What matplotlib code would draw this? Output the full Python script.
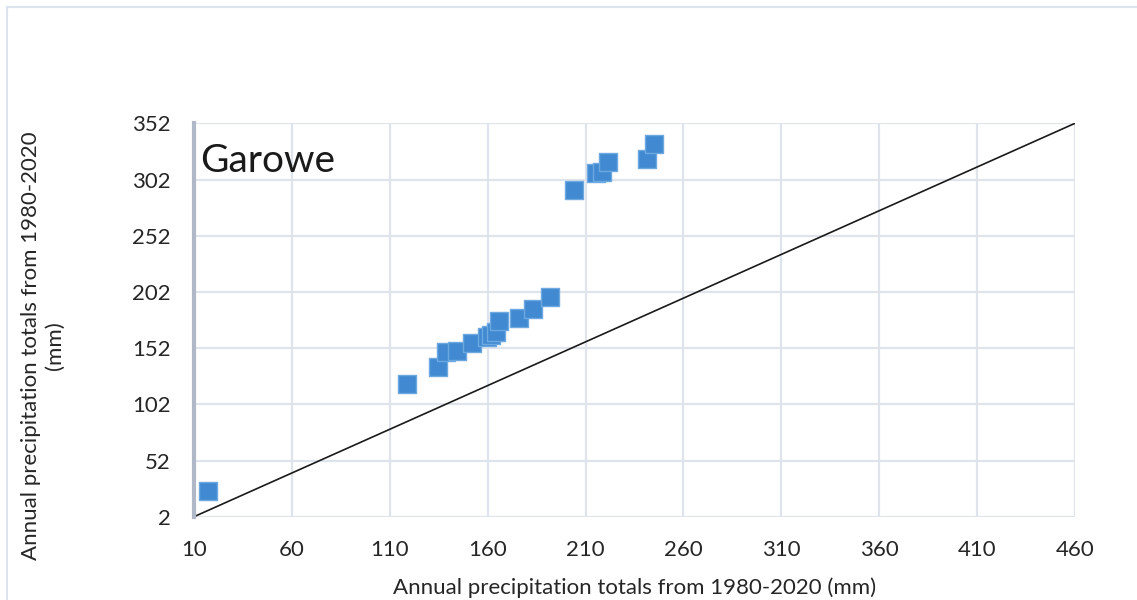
import matplotlib
matplotlib.use("Agg")
import matplotlib.pyplot as plt
from matplotlib.lines import Line2D

# Annual precipitation totals (mm), 1980-2020, Garowe
observed = [17.2, 118.6, 134.4, 138.5, 144.1, 152.0, 159.8, 161.8, 164.2, 165.9,
            175.8, 183.3, 191.9, 203.9, 215.1, 218.5, 221.6, 241.2, 244.8]
estimated = [25.1, 119.8, 134.9, 148.8, 149.7, 156.3, 161.6, 163.9, 166.0, 175.8,
             178.5, 186.5, 197.7, 292.7, 307.5, 309.0, 317.6, 320.0, 333.3]

ref_x = [10, 460]
ref_y = [2, 352]

x_ticks = [10, 60, 110, 160, 210, 260, 310, 360, 410, 460]
y_ticks = [2, 52, 102, 152, 202, 252, 302, 352]

station = "Garowe"
axis_label = "Annual precipitation totals from 1980-2020 (mm)"
y_label = "Annual precipitation totals from 1980-2020\n(mm)"

plt.rcParams['font.family'] = ['Lato', 'DejaVu Sans']

fig = plt.figure(figsize=(11.37, 6.0), dpi=100)
ax = fig.add_axes([194 / 1137, 1 - 516.7 / 600, 881 / 1137, 393.4 / 600])

# outer frame of the chart area
frame_kw = dict(color="#dce3ec", lw=1.5, transform=fig.transFigure)
fig.add_artist(Line2D([7 / 1137, 1.0], [1 - 7 / 600, 1 - 7 / 600], **frame_kw))
fig.add_artist(Line2D([7 / 1137, 7 / 1137], [0.0, 1 - 7 / 600], **frame_kw))

ax.plot(ref_x, ref_y, color="#1a1a1a", lw=1.2, zorder=2)
ax.scatter(observed, estimated, marker="s", s=155, facecolor="#4189d0",
           edgecolor="#6ea8e0", linewidths=1.0, zorder=3)

ax.set_xlim(10, 460)
ax.set_ylim(2, 352)
ax.set_xticks(x_ticks)
ax.set_yticks(y_ticks)
ax.tick_params(length=0, labelsize=16, labelcolor="#262626")
ax.tick_params(axis="x", pad=17)
ax.tick_params(axis="y", pad=17)

ax.grid(True, color="#dfe4ec", lw=1.6)
ax.set_axisbelow(True)
for side in ("top", "right", "bottom"):
    ax.spines[side].set_visible(False)
ax.spines["left"].set_color("#b0b8c8")
ax.spines["left"].set_linewidth(3)

ax.text(0.007, 0.95, station, transform=ax.transAxes, fontsize=28,
        color="#1a1a1a", va="top", ha="left")

ax.set_xlabel(axis_label, fontsize=16, color="#262626", labelpad=12)
ax.set_ylabel(y_label, fontsize=16, color="#262626", linespacing=1.2)
ax.yaxis.set_label_coords(-0.147, 0.434)

fig.savefig("out.png", dpi=100, facecolor="white")
